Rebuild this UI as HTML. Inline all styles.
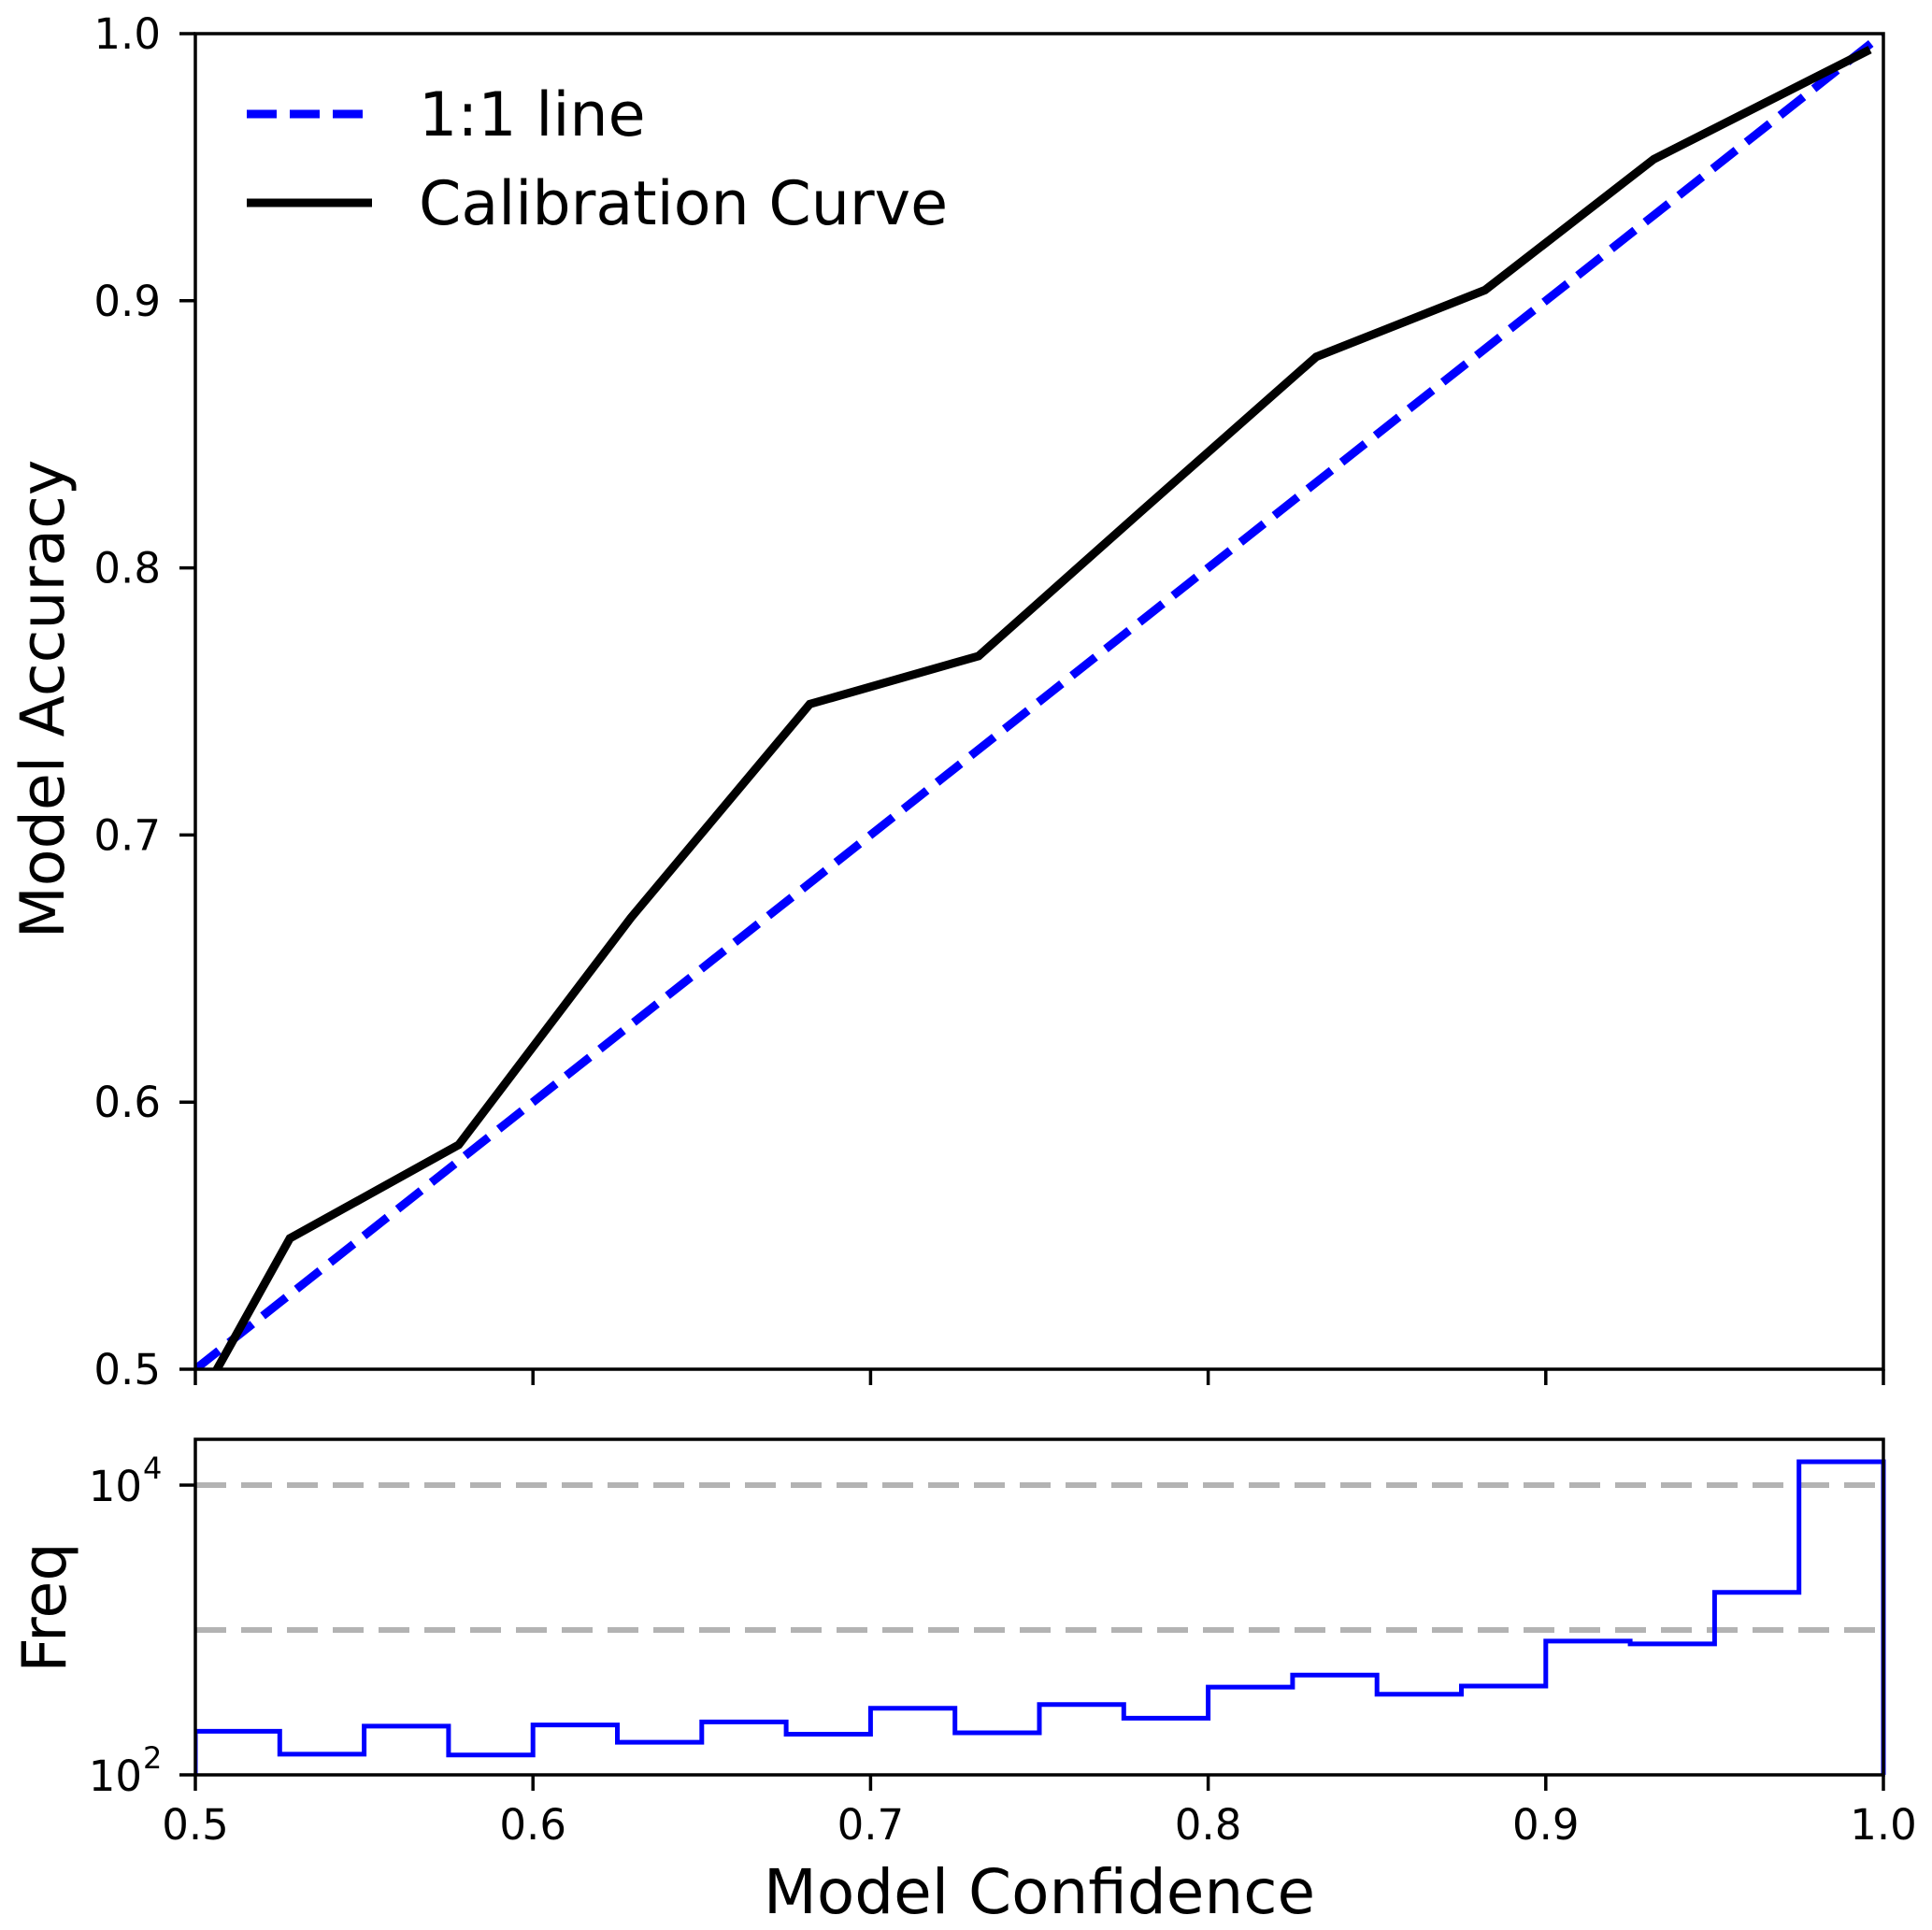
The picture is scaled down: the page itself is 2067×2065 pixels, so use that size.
<!DOCTYPE html>
<html><head><meta charset="utf-8"><style>
html,body{margin:0;padding:0;background:#fff;}
svg{display:block;font-family:"DejaVu Sans","Liberation Sans",sans-serif;}
</style></head><body>
<svg id="chart" width="2067" height="2065" viewBox="0 0 2067 2065" xmlns="http://www.w3.org/2000/svg">
<rect width="2067" height="2065" fill="#fff"/>
<g id="main"></g>
<g id="hist"></g>
<g id="labels">
<text x="0" y="0" font-size="65" text-anchor="middle" transform="translate(68,748) rotate(-90)">Model Accuracy</text>
<text x="0" y="0" font-size="65" text-anchor="middle" transform="translate(70,1720) rotate(-90)">Freq</text>
<text x="1112" y="2047" font-size="66" text-anchor="middle">Model Confidence</text>
</g>
<g id="legend">
<line x1="264" y1="122" x2="398" y2="122" stroke="#0000ff" stroke-width="9" stroke-dasharray="32,14"/>
<text x="448" y="145" font-size="65">1:1 line</text>
<line x1="264" y1="217" x2="398" y2="217" stroke="#000" stroke-width="9"/>
<text x="448" y="240" font-size="65">Calibration Curve</text>
</g>
</svg>
<script>
const xTicks = [0.5, 0.6, 0.7, 0.8, 0.9, 1.0];
const xTickLabels = ["0.5","0.6","0.7","0.8","0.9","1.0"];
const yTicks = [0.5, 0.6, 0.7, 0.8, 0.9, 1.0];
const yTickLabels = ["0.5","0.6","0.7","0.8","0.9","1.0"];
const identityX = [0.5, 1.0];
const identityY = [0.5, 1.0];
const calibX = [0.502, 0.528, 0.578, 0.629, 0.682, 0.732, 0.780, 0.832, 0.882, 0.932, 0.996];
const calibY = [0.490, 0.549, 0.584, 0.669, 0.749, 0.767, 0.821, 0.879, 0.904, 0.953, 0.994];
const binEdges = [0.5,0.525,0.55,0.575,0.6,0.625,0.65,0.675,0.7,0.725,0.75,0.775,0.8,0.825,0.85,0.875,0.9,0.925,0.95,0.975,1.0];
const binCounts = [200,139,217,137,221,168,232,191,288,195,306,246,403,488,360,410,838,802,1820,14500];
const freqRefLines = [1000, 10000];
const freqTickVals = [100, 10000];
const freqTickExp = ["2","4"];

const NS = "http://www.w3.org/2000/svg";
const X0 = 209, X1 = 2015, MT = 36, MB = 1465, HT = 1540, HB = 1899, DEC = 155;
const LOGMIN = 2;
function sx(v){ return X0 + (v-0.5)/(0.5)*(X1-X0); }
function sy(v){ return MB - (v-0.5)/(0.5)*(MB-MT); }
function hy(v){ return HB - (Math.log10(v)-LOGMIN)*DEC; }
function mk(tag, attrs, parent){
  const e = document.createElementNS(NS, tag);
  for (const k in attrs) e.setAttribute(k, attrs[k]);
  parent.appendChild(e); return e;
}
const main = document.getElementById('main');
const hist = document.getElementById('hist');

const defs = mk('defs', {}, document.getElementById('chart'));
const cp = mk('clipPath', {id:'mclip'}, defs);
mk('rect', {x:X0, y:MT, width:X1-X0, height:MB-MT}, cp);
const cp2 = mk('clipPath', {id:'hclip'}, defs);
mk('rect', {x:X0, y:HT, width:X1-X0+3, height:HB-HT}, cp2);

const idl = mk('polyline', {points: identityX.map((v,i)=>sx(v)+','+sy(identityY[i])).join(' '), fill:'none', stroke:'#0000ff', 'stroke-width':9, 'stroke-dasharray':'32,14', 'clip-path':'url(#mclip)'}, main);


const cal = mk('polyline', {points: calibX.map((v,i)=>sx(v)+','+sy(calibY[i])).join(' '), fill:'none', stroke:'#000', 'stroke-width':9, 'stroke-linejoin':'miter', 'clip-path':'url(#mclip)'}, main);



const mf = mk('rect', {x:X0, y:MT, width:X1-X0, height:MB-MT, fill:'none', stroke:'#000', 'stroke-width':3.5}, main);


yTicks.forEach((v,i)=>{
  const y = sy(v);
  const t = mk('line', {x1:X0-17, y1:y, x2:X0, y2:y, stroke:'#000', 'stroke-width':3.5}, main);
  
  
  const l = mk('text', {x:172, y:y+16, 'font-size':45, 'text-anchor':'end'}, main);
  l.textContent = yTickLabels[i];
  
  
});
xTicks.forEach((v)=>{
  const x = sx(v);
  const t = mk('line', {x1:x, y1:MB, x2:x, y2:MB+17, stroke:'#000', 'stroke-width':3.5}, main);
  
  
});

freqRefLines.forEach(v=>{
  const l = mk('line', {x1:X0, y1:hy(v), x2:X1, y2:hy(v), stroke:'#b3b3b3', 'stroke-width':6, 'stroke-dasharray':'33,16'}, hist);
  
  
});
let d = 'M'+sx(binEdges[0])+','+HB;
binCounts.forEach((c,i)=>{
  d += ' L'+sx(binEdges[i])+','+hy(c)+' L'+sx(binEdges[i+1])+','+hy(c);
});
d += ' L'+sx(binEdges[binEdges.length-1])+','+HB;
const hp = mk('path', {d:d, fill:'none', stroke:'#0000ff', 'stroke-width':5, 'clip-path':'url(#hclip)'}, hist);



const hf = mk('rect', {x:X0, y:HT, width:X1-X0, height:HB-HT, fill:'none', stroke:'#000', 'stroke-width':3.5}, hist);


freqTickVals.forEach((v,i)=>{
  const y = hy(v);
  const t = mk('line', {x1:X0-17, y1:y, x2:X0, y2:y, stroke:'#000', 'stroke-width':3.5}, hist);
  
  
  const l = mk('text', {x:152, y:y+17, 'font-size':45, 'text-anchor':'end'}, hist);
  l.textContent = '10';
  
  
  const s = mk('text', {x:153, y:y-7, 'font-size':32, 'text-anchor':'start'}, hist);
  s.textContent = freqTickExp[i];
  
  
});
xTicks.forEach((v,i)=>{
  const x = sx(v);
  const t = mk('line', {x1:x, y1:HB, x2:x, y2:HB+17, stroke:'#000', 'stroke-width':3.5}, hist);
  
  
  const l = mk('text', {x:x, y:1968, 'font-size':45, 'text-anchor':'middle'}, hist);
  l.textContent = xTickLabels[i];
  
  
});
</script>
</body></html>
